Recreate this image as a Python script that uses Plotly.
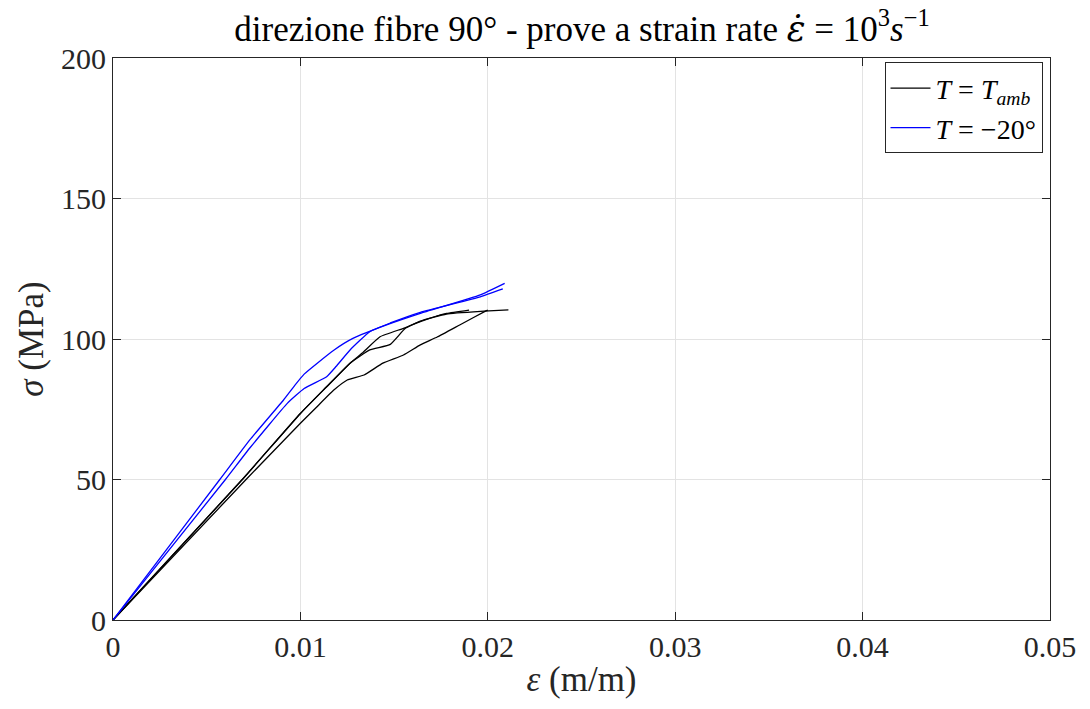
import plotly.graph_objects as go

# Strain (m/m) and stress (MPa) for each test
amb1_strain = [0, 0.0069, 0.0100, 0.0114, 0.01265, 0.0133, 0.01425, 0.0155, 0.0164, 0.0178, 0.0190]
amb1_stress = [0, 50.0, 73.5, 83.0, 91.4, 95.0, 100.8, 103.8, 106.2, 109.1, 110.3]

amb2_strain = [0, 0.0069, 0.0100, 0.0114, 0.01265, 0.0137, 0.0148, 0.0156, 0.0164, 0.0178, 0.0198, 0.0211]
amb2_stress = [0, 50.0, 73.5, 83.0, 91.4, 96.1, 98.1, 103.8, 106.4, 108.9, 109.9, 110.4]

amb3_strain = [0, 0.0071, 0.0100, 0.0109, 0.0118, 0.0125, 0.0134, 0.0144, 0.0155, 0.0164, 0.0173, 0.0185, 0.0199, 0.0200]
amb3_stress = [0, 50.0, 70.0, 76.0, 81.9, 85.4, 87.2, 91.4, 94.3, 97.9, 100.7, 105.0, 110.0, 110.3]

cold1_strain = [0, 0.0057, 0.0073, 0.0091, 0.0097, 0.0102, 0.0109, 0.0118, 0.0128, 0.0146, 0.0164, 0.0196, 0.0209]
cold1_stress = [0, 50.0, 64.1, 78.3, 83.5, 87.5, 91.4, 96.1, 100.2, 105.0, 109.1, 115.7, 119.8]

cold2_strain = [0, 0.0060, 0.0073, 0.0093, 0.0102, 0.0114, 0.0119, 0.01265, 0.0137, 0.0148, 0.0164, 0.0196, 0.0208]
cold2_stress = [0, 50.0, 61.2, 77.1, 82.4, 86.6, 90.2, 96.1, 102.6, 105.7, 109.5, 115.0, 117.8]

x_ticks = [0, 0.01, 0.02, 0.03, 0.04, 0.05]
x_tick_text = ["0", "0.01", "0.02", "0.03", "0.04", "0.05"]
y_ticks = [0, 50, 100, 150, 200]

SERIF = "Liberation Serif"
AX = "#262626"

fig = go.Figure()

amb_tests = [(amb1_strain, amb1_stress), (amb2_strain, amb2_stress), (amb3_strain, amb3_stress)]
for i, (xs, ys) in enumerate(amb_tests):
    fig.add_trace(go.Scatter(
        x=xs, y=ys, mode="lines",
        line=dict(color="black", width=1.3, shape="spline", smoothing=0.4),
        name="<i>T</i> = <i>T</i><sub><i>amb</i></sub>",
        legendgroup="amb", showlegend=(i == 0),
    ))

cold_tests = [(cold1_strain, cold1_stress), (cold2_strain, cold2_stress)]
for i, (xs, ys) in enumerate(cold_tests):
    fig.add_trace(go.Scatter(
        x=xs, y=ys, mode="lines",
        line=dict(color="#0000ff", width=1.3, shape="spline", smoothing=0.4),
        name="<i>T</i> = \u221220\u00b0",
        legendgroup="cold", showlegend=(i == 0),
    ))

axis_common = dict(
    showgrid=True, gridcolor="#e3e3e3", gridwidth=1,
    showline=True, linecolor=AX, linewidth=1, mirror="ticks",
    ticks="inside", ticklen=8, tickcolor=AX,
    zeroline=False,
    tickfont=dict(family=SERIF, size=30, color=AX),
)

fig.update_xaxes(
    range=[0, 0.05], tickvals=x_ticks, ticktext=x_tick_text,
    title=dict(text="<i>\u03b5</i> (m/m)", font=dict(family=SERIF, size=35, color=AX), standoff=4),
    **axis_common,
)
fig.update_yaxes(
    range=[0, 200], tickvals=y_ticks,
    title=dict(text="<i>\u03c3</i> (MPa)", font=dict(family=SERIF, size=35, color=AX), standoff=6),
    **axis_common,
)

title_text = (
    "direzione fibre 90\u00b0 - prove a strain rate "
    "<span style='font-family:DejaVu Serif'><i>\u03b5\u0307</i></span>"
    " = 10<sup>3</sup><i>s</i><sup>\u22121</sup>"
)

fig.update_layout(
    width=1090, height=709,
    margin=dict(l=113, r=40, t=58, b=89),
    paper_bgcolor="white", plot_bgcolor="white",
    title=dict(
        text=title_text,
        x=0.534, xanchor="center", y=0.96, yanchor="middle",
        font=dict(family=SERIF, size=35, color="black"),
    ),
    legend=dict(
        x=0.992, y=0.992, xanchor="right", yanchor="top",
        bordercolor=AX, borderwidth=1, bgcolor="white",
        font=dict(family=SERIF, size=28, color="black"),
        itemwidth=40, tracegroupgap=0,
    ),
)

fig.write_html("out.html")
